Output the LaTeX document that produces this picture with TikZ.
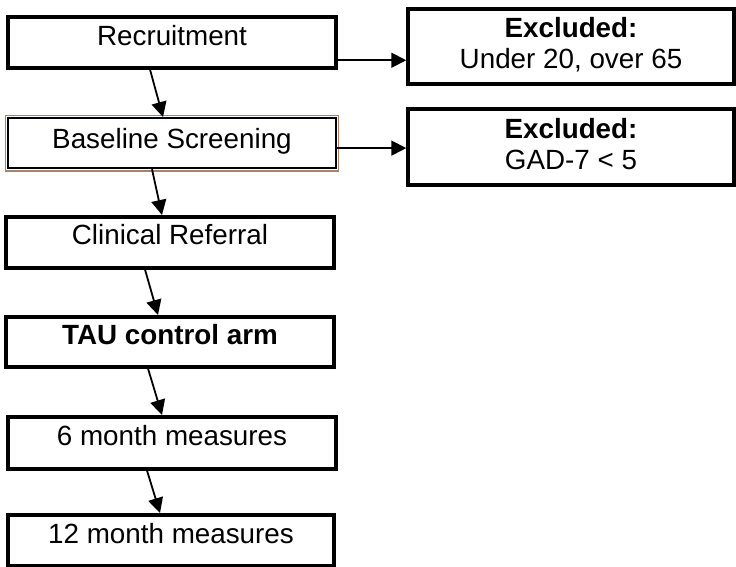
\documentclass[tikz,border=0pt]{standalone}
\usepackage{fontspec}
\setmainfont{Liberation Sans}
\usetikzlibrary{arrows.meta,calc}
\definecolor{brownedge}{HTML}{A4826C}
\begin{document}
\begin{tikzpicture}[x=1pt,y=1pt,
  every node/.style={font=\fontsize{27.8pt}{31pt}\selectfont},
  stepbox/.style={draw=black, line width=3.5pt, rectangle, inner xsep=0pt, inner ysep=0pt,
    minimum width=328pt, text height=29pt, text depth=22pt, anchor=north},
  exbox/.style={draw=black, line width=3.5pt, rectangle, inner xsep=0pt, inner ysep=0pt,
    minimum width=326pt, align=center, anchor=north},
  arr/.style={line width=1.8pt, -{Triangle[length=15pt,width=15pt]}}
]
\useasboundingbox (0,0) rectangle (736,-566);
\fill[white] (0,0) rectangle (736,-566);

\node[stepbox] (rec) at (172,-15) {Recruitment};
\node[stepbox, line width=2.2pt, text height=30pt, text depth=20pt] (base) at (172,-117) {Baseline Screening};
\draw[brownedge, line width=1.2pt] ([shift={(-1.7pt,1.7pt)}]base.north west) rectangle ([shift={(1.7pt,-1.7pt)}]base.south east);
\node[stepbox, text height=28pt, text depth=23pt] (clin) at (170,-215) {Clinical Referral};
\node[stepbox, text height=28pt] (tau) at (170,-315) {\textbf{TAU control arm}};
\node[stepbox, text depth=23pt] (six) at (172,-415) {6 month measures};
\node[stepbox, minimum width=326pt] (twelve) at (171,-513) {12 month measures};

\node[exbox] (ex1) at (571,-7) {\rule{0pt}{29pt}\textbf{Excluded:}\\Under 20, over 65\rule[-15pt]{0pt}{15pt}};
\node[exbox] (ex2) at (571,-107) {\rule{0pt}{30pt}\textbf{Excluded:}\\GAD-7 < 5\rule[-15pt]{0pt}{15pt}};

\draw[arr] ([xshift=-22pt]rec.south) -- ([xshift=-9pt]base.north);
\draw[arr] ([xshift=-20pt]base.south) -- ([xshift=-8pt]clin.north);
\draw[arr] ([xshift=-25pt]clin.south) -- ([xshift=-12pt]tau.north);
\draw[arr] ([xshift=-22pt]tau.south) -- ([xshift=-10pt]six.north);
\draw[arr] ([xshift=-25pt]six.south) -- ([xshift=-11pt]twelve.north);

\coordinate (h1) at ([yshift=-18pt]rec.east);
\coordinate (h2) at ([yshift=-5pt]base.east);
\draw[arr] (h1) -- (h1 -| ex1.west);
\draw[arr] (h2) -- (h2 -| ex2.west);
\end{tikzpicture}
\end{document}
